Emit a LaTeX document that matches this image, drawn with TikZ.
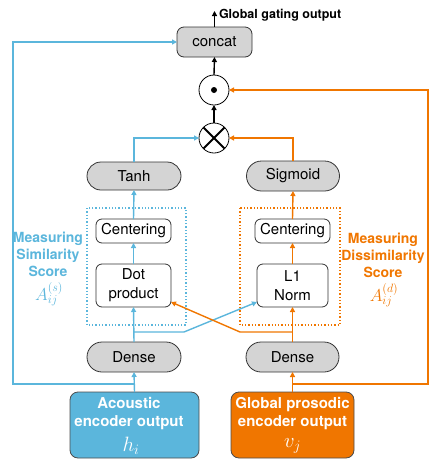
\documentclass[tikz,border=0pt]{standalone}
\usepackage{fontspec}
\setmainfont{TeX Gyre Heros}
\usetikzlibrary{arrows.meta,calc}
\definecolor{cblue}{RGB}{91,182,220}
\definecolor{corange}{RGB}{240,118,0}
\definecolor{cgray}{RGB}{212,212,212}
\begin{document}
\begin{tikzpicture}[x=1pt,y=-1pt,
  every node/.style={inner sep=0pt,outer sep=0pt},
  txt/.style={font=\fontsize{15}{19}\selectfont},
  graybox/.style={txt,draw=black!80,line width=0.8pt,fill=cgray,rounded corners=14pt,minimum height=29pt},
  whitebox/.style={txt,draw=black!80,line width=0.8pt,fill=white,rounded corners=6pt,align=center},
  inbox/.style={draw=black!70,line width=0.8pt,rounded corners=8pt,minimum width=#1,minimum height=66pt},
  intxt/.style={text=white,align=center,font=\bfseries\fontsize{15}{18}\selectfont},
  opc/.style={circle,draw=black,line width=0.8pt,fill=white,minimum size=30pt},
  tip/.style={-{Triangle[length=5pt,width=5pt]}},
  bl/.style={cblue,line width=1.4pt},
  orl/.style={corange,line width=1.4pt},
  bk/.style={black,line width=1.4pt},
  lab/.style={font=\bfseries\fontsize{14}{17}\selectfont,align=center}
]
\useasboundingbox (0,0) rectangle (440,475);

% dotted group boxes
\draw[cblue,line width=1.3pt,dotted] (87,208) rectangle (186,325);
\draw[corange,line width=1.3pt,dotted] (240,208) rectangle (340,325);

% nodes
\node[graybox,minimum width=75pt,rounded corners=7pt,minimum height=30pt] (concat) at (214.5,42) {concat};
\node[opc] (odot) at (214,90) {};
\fill (odot.center) circle (3pt);
\node[opc] (otimes) at (214,138) {};
\draw[line width=2pt] (otimes.north east) -- (otimes.south west);
\draw[line width=2pt] (otimes.north west) -- (otimes.south east);

\node[graybox,minimum width=94pt,minimum height=28pt] (tanh) at (134,176) {Tanh};
\node[graybox,minimum width=93pt,minimum height=30pt,rounded corners=15pt] (sigm) at (293,176) {Sigmoid};

\node[whitebox,minimum width=75pt,minimum height=24pt] (centL) at (133.5,231) {Centering};
\node[whitebox,minimum width=75pt,minimum height=43pt] (dotp) at (133.5,285.5) {Dot\\product};
\node[whitebox,minimum width=75pt,minimum height=24pt] (centR) at (292.5,231) {Centering};
\node[whitebox,minimum width=71pt,minimum height=43pt] (lone) at (292.5,285.5) {L1\\Norm};

\node[graybox,minimum width=94pt,minimum height=30pt,rounded corners=15pt] (denseL) at (134,357) {Dense};
\node[graybox,minimum width=93pt,minimum height=30pt,rounded corners=15pt] (denseR) at (292.5,357) {Dense};

\node[inbox=129pt,fill=cblue] (acou) at (134.5,425) {};
\node[intxt] (acout) at (129,414) {Acoustic\\encoder output};
\node[text=white,font=\fontsize{20}{20}\selectfont] (hi) at (131,446) {$h_i$};
\node[inbox=123pt,fill=corange] (pros) at (292.5,425) {};
\node[intxt] (prout) at (292.5,414) {Global prosodic\\encoder output};
\node[text=white,font=\fontsize{20}{20}\selectfont] (vj) at (292.5,446) {$v_j$};

% side labels
\node[lab,text=cblue] (simlab) at (48,254) {Measuring\\Similarity\\Score};
\node[text=cblue,font=\fontsize{17}{17}\selectfont] (simA) at (49,294) {$A_{ij}^{(s)}$};
\node[lab,text=corange] (dislab) at (383,255) {Measuring\\Dissimilarity\\Score};
\node[text=corange,font=\fontsize{17}{17}\selectfont] (disA) at (384,295) {$A_{ij}^{(d)}$};

% output
\coordinate (gout) at (214.5,11);
\draw[bk,line width=1.2pt,tip] (concat.north) -- (gout);
\node[anchor=west,font=\bfseries\fontsize{12.5}{14}\selectfont] (goutlab) at (219,15) {Global gating output};

% black arrows
\draw[bk,tip] (otimes.north) -- (odot.south);
\draw[bk,tip] (odot.north) -- (concat.south);

% blue connectors
\coordinate (bsplit) at (134,384);
\coordinate (bleft) at (13,384);
\coordinate (bj) at (134,332);
\coordinate (bk) at (184,332);
\draw[bl,tip] (acou.north) -- (denseL.south);
\draw[bl,tip] (bsplit) -- (bleft) |- (concat.west);
\draw[bl,tip] (denseL.north) -- (dotp.south);
\draw[bl,tip] (bj) -- (bk) -- ([yshift=5pt]lone.south west);
\draw[bl,tip] (dotp.north) -- (centL.south);
\draw[bl,tip] (centL.north) -- (tanh.south);
\draw[bl,tip] (tanh.north) |- (otimes.west);

% orange connectors
\coordinate (osplit) at (292.5,384);
\coordinate (oright) at (428,384);
\coordinate (oj) at (292.5,332);
\coordinate (ok) at (240,332);
\draw[orl,tip] (pros.north) -- (denseR.south);
\draw[orl,tip] (osplit) -- (oright) |- (odot.east);
\draw[orl,tip] (denseR.north) -- (lone.south);
\draw[orl,tip] (oj) -- (ok) -- ([yshift=5pt]dotp.south east);
\draw[orl,tip] (lone.north) -- (centR.south);
\draw[orl,tip] (centR.north) -- (sigm.south);
\draw[orl,tip] (sigm.north) |- (otimes.east);
\end{tikzpicture}
\end{document}
